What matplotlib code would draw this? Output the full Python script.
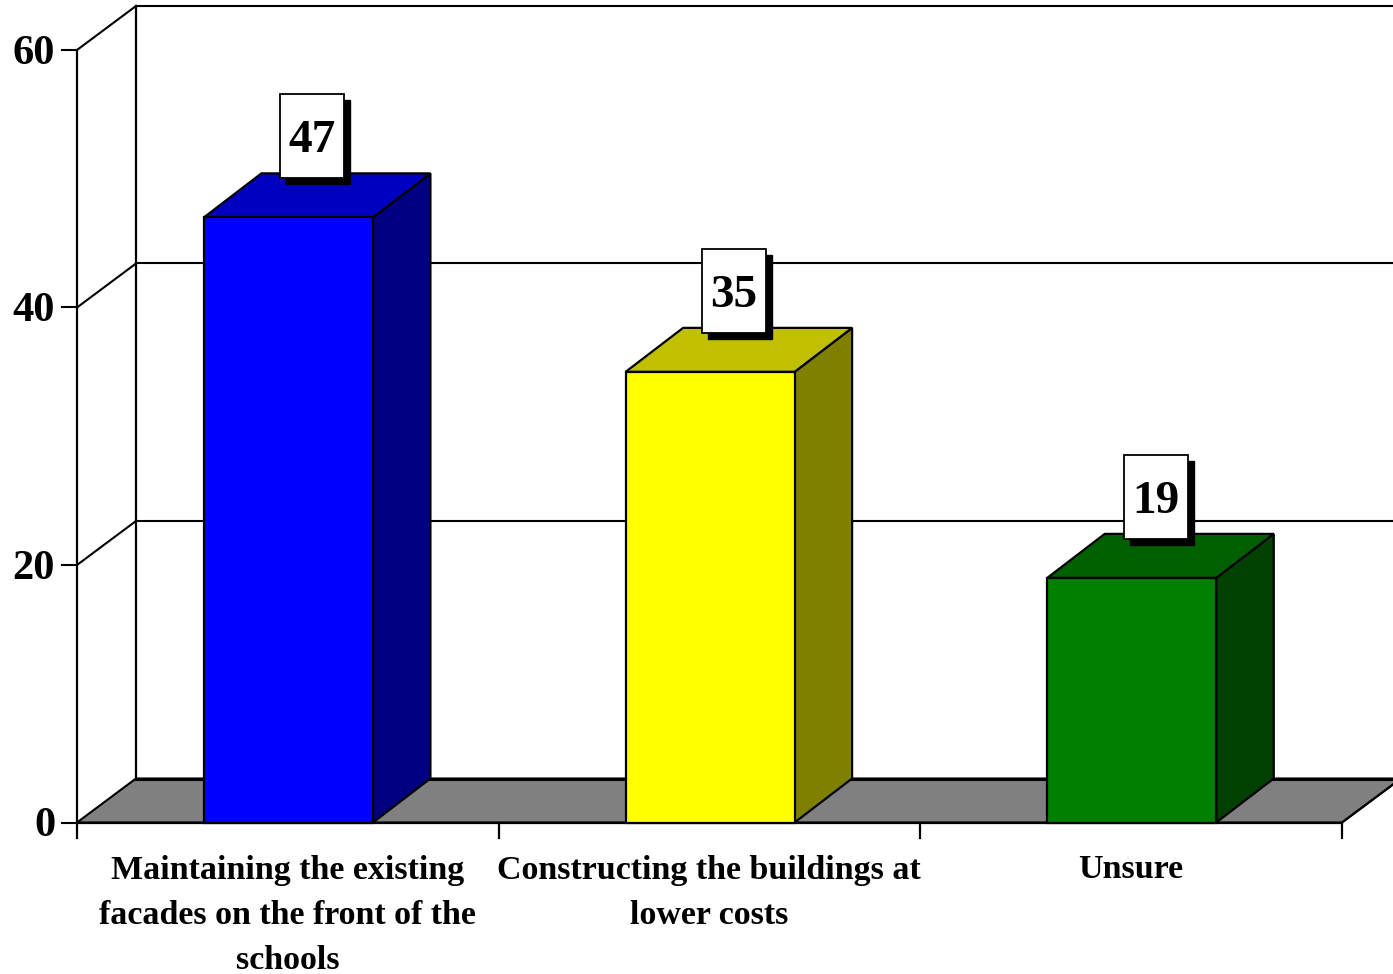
import matplotlib
matplotlib.use('Agg')
import matplotlib.pyplot as plt
from matplotlib.patches import Polygon, Rectangle

categories = ['Maintaining the existing\nfacades on the front of the\nschools',
              'Constructing the buildings at\nlower costs',
              'Unsure']
values = [47, 35, 19]
y_ticks = [0, 20, 40, 60]
front_colors = ['#0000FF', '#FFFF00', '#008000']
top_colors = ['#0000C0', '#C0C000', '#006000']
side_colors = ['#000080', '#808000', '#004000']

W, H = 1393, 974
# plot box in pixels
LEFT, RIGHT, BOTTOM, TOP = 77, 1342, 822.5, 50
DX = 57.5 / ((RIGHT - LEFT) / 3)   # bar depth in category units
WALL_DX = 59 / ((RIGHT - LEFT) / 3)
DY = 44 / ((BOTTOM - TOP) / 60)    # depth in value units
BAR_W = 169 / ((RIGHT - LEFT) / 3)
PX_X = 3 / (RIGHT - LEFT)
PX_Y = 60 / (BOTTOM - TOP)

plt.rcParams['font.family'] = ['Liberation Serif', 'DejaVu Serif']
plt.rcParams['font.weight'] = 'bold'

fig = plt.figure(figsize=(W / 100, H / 100), dpi=100)
ax = fig.add_axes([LEFT / W, 1 - BOTTOM / H, (RIGHT - LEFT) / W, (BOTTOM - TOP) / H])
ax.set_xlim(0, 3)
ax.set_ylim(0, 60)
ax.axis('off')

x_end = 3.3

# floor
ax.add_patch(Polygon([(0, 0), (WALL_DX, DY), (x_end, DY), (3 + WALL_DX, DY), (3, 0)],
                     closed=True, fc='#808080', ec='black', lw=1.5, clip_on=False, zorder=1.2))

# walls and gridlines
ax.plot([0, 0], [0, 60], color='black', lw=1.6, clip_on=False, zorder=2)
ax.plot([WALL_DX, WALL_DX], [DY, 60 + DY], color='black', lw=1.6, clip_on=False, zorder=2)
ax.plot([0, WALL_DX], [60, 60 + DY], color='black', lw=1.5, clip_on=False, zorder=2)
ax.plot([WALL_DX, x_end], [60 + DY, 60 + DY], color='black', lw=1.5, clip_on=False, zorder=2)
ax.plot([WALL_DX, x_end], [DY, DY], color='black', lw=2.2, clip_on=False, zorder=2)
for t in y_ticks:
    ax.plot([-15 * PX_X, 0], [t, t], color='black', lw=1.5, clip_on=False, zorder=2)
    ax.text(-22 * PX_X, t - 4 * PX_Y, str(t), ha='right', va='center', fontsize=30.5, clip_on=False)
    if t in (20, 40):
        ax.plot([0, WALL_DX], [t, t + DY], color='black', lw=1.5, clip_on=False, zorder=2)
        ax.plot([WALL_DX, x_end], [t + DY, t + DY], color='black', lw=1.5, clip_on=False, zorder=2)

# category axis
ax.plot([0, 3], [0, 0], color='black', lw=1.6, clip_on=False, zorder=3)
for i in range(4):
    ax.plot([i, i], [0, -15 * PX_Y], color='black', lw=1.6, clip_on=False, zorder=3)
ax.plot([3, 3 + 51 * PX_X], [0, 38 * PX_Y], color='black', lw=1.5, clip_on=False, zorder=3)

for i, (cat, val) in enumerate(zip(categories, values)):
    xc = i + 0.5 + 0.6 * PX_X
    x0, x1 = xc - BAR_W / 2, xc + BAR_W / 2
    ax.add_patch(Polygon([(x1, 0), (x1 + DX, DY), (x1 + DX, val + DY), (x1, val)], closed=True,
                         fc=side_colors[i], ec='black', lw=1.6, zorder=4, clip_on=False))
    ax.add_patch(Polygon([(x0, val), (x0 + DX, val + DY), (x1 + DX, val + DY), (x1, val)], closed=True,
                         fc=top_colors[i], ec='black', lw=1.6, zorder=4, clip_on=False))
    ax.add_patch(Rectangle((x0, 0), BAR_W, val, fc=front_colors[i], ec='black', lw=1.6, zorder=5,
                           clip_on=False))

    # value label with drop shadow
    bx = xc - 8 * PX_X
    by = val + 39 * PX_Y
    bw, bh = 64 * PX_X, 84 * PX_Y
    ax.add_patch(Rectangle((bx + 6 * PX_X, by - 6 * PX_Y), bw, bh, fc='black', ec='black', lw=1,
                           zorder=6, clip_on=False))
    ax.add_patch(Rectangle((bx, by), bw, bh, fc='white', ec='black', lw=1.3, zorder=7, clip_on=False))
    ax.text(bx + bw / 2, by + bh / 2 - 5 * PX_Y, str(val), ha='center', va='center', fontsize=34,
            zorder=8, clip_on=False)

    ax.text(xc - 1 * PX_X, -32 * PX_Y, cat, ha='center', va='top', fontsize=24.5, linespacing=1.6,
            clip_on=False)

fig.savefig('out.png', dpi=100)
